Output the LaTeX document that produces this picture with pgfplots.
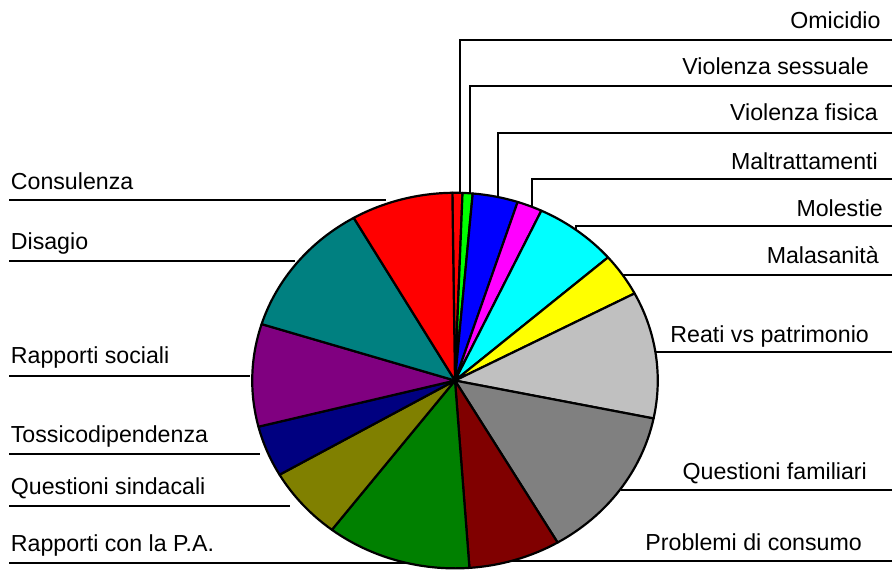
\documentclass[border=0pt]{standalone}
\usepackage{pgfplots}
\pgfplotsset{compat=1.18}
\usepackage{pgfplotstable}
\usepackage{fontspec}
\setmainfont{Liberation Sans}

\definecolor{pRed}{HTML}{FF0000}
\definecolor{pLime}{HTML}{00FF00}
\definecolor{pBlue}{HTML}{0000FF}
\definecolor{pMagenta}{HTML}{FF00FF}
\definecolor{pCyan}{HTML}{00FFFF}
\definecolor{pYellow}{HTML}{FFFF00}
\definecolor{pSilver}{HTML}{C0C0C0}
\definecolor{pGray}{HTML}{808080}
\definecolor{pMaroon}{HTML}{800000}
\definecolor{pGreen}{HTML}{008000}
\definecolor{pOlive}{HTML}{808000}
\definecolor{pNavy}{HTML}{000080}
\definecolor{pPurple}{HTML}{800080}
\definecolor{pTeal}{HTML}{008080}

% share of each category (%), clockwise from 12 o'clock
\pgfplotstableread{
value color
0.8   pRed
0.8   pLime
3.6   pBlue
2.0   pMagenta
6.6   pCyan
3.7   pYellow
10.9  pSilver
13.3  pGray
7.3   pMaroon
11.5  pGreen
6.25  pOlive
4.4   pNavy
8.8   pPurple
11.8  pTeal
8.1   pRed
}\piedata

\newcommand\lbl{\fontsize{23.2bp}{28bp}\selectfont}

\begin{document}
\begin{tikzpicture}
\begin{axis}[x=1bp, y=1bp, xmin=0, xmax=893, ymin=0, ymax=571,
  hide axis, clip=false]
  \path (axis cs:0,0) rectangle (axis cs:893,571);
  % leader lines (under the pie)
  \begin{scope}[line width=2bp]
    \draw (axis cs:893,531) -- (axis cs:460.7,531) -- (axis cs:460.7,377);
    \draw (axis cs:893,485) -- (axis cs:470.7,485) -- (axis cs:470.7,375);
    \draw (axis cs:893,438.3) -- (axis cs:498.3,438.3) -- (axis cs:498.3,373);
    \draw (axis cs:893,391.3) -- (axis cs:532.3,391.3) -- (axis cs:532.3,363);
    \draw (axis cs:893,344.3) -- (axis cs:576.7,344.3) -- (axis cs:576.7,340);
    \draw (axis cs:893,295.3) -- (axis cs:623,295.3);
    \draw (axis cs:893,218.3) -- (axis cs:655,218.3);
    \draw (axis cs:893,80) -- (axis cs:621.7,80);
    \draw (axis cs:893,9.3) -- (axis cs:513,9.3);
    \draw (axis cs:9.3,370.3) -- (axis cs:386.7,370.3);
    \draw (axis cs:9.3,310) -- (axis cs:295,310);
    \draw (axis cs:9.3,194.3) -- (axis cs:250,194.3);
    \draw (axis cs:9.3,116) -- (axis cs:260,116);
    \draw (axis cs:9.3,64.3) -- (axis cs:290,64.3);
    \draw (axis cs:9.3,7.7) -- (axis cs:446,7.7);
  \end{scope}
  \def\cx{455.5}\def\cy{190}
  \pgfmathsetmacro\total{0}
  \pgfplotsforeachungrouped \i in {0,...,14}{%
    \pgfplotstablegetelem{\i}{value}\of\piedata
    \pgfmathsetmacro\total{\total+\pgfplotsretval}}
  \pgfmathsetmacro\angA{90.75}
  \pgfplotsforeachungrouped \i in {0,...,14}{%
    \pgfplotstablegetelem{\i}{value}\of\piedata \let\v\pgfplotsretval
    \pgfplotstablegetelem{\i}{color}\of\piedata \let\c\pgfplotsretval
    \pgfmathsetmacro\angB{\angA-360*\v/\total}
    \pgfmathsetmacro\sx{\cx+203*cos(\angA)}
    \pgfmathsetmacro\sy{\cy+188*sin(\angA)}
    \edef\temp{\noexpand\filldraw[fill=\c, draw=black, line width=2.2bp, line join=round]
      (axis cs:\cx,\cy) -- (axis cs:\sx,\sy)
      arc[start angle=\angA, end angle=\angB, x radius=203bp, y radius=188bp] -- cycle;}
    \temp
    \global\let\angA\angB
  }
  % labels
  \node[anchor=base east, inner sep=0pt, font=\lbl] at (axis cs:881.7,542.7) {Omicidio};
  \node[anchor=base east, inner sep=0pt, font=\lbl] at (axis cs:870,496) {Violenza sessuale};
  \node[anchor=base east, inner sep=0pt, font=\lbl] at (axis cs:879,450.3) {Violenza fisica};
  \node[anchor=base east, inner sep=0pt, font=\lbl] at (axis cs:879,401) {Maltrattamenti};
  \node[anchor=base east, inner sep=0pt, font=\lbl] at (axis cs:884,354.3) {Molestie};
  \node[anchor=base east, inner sep=0pt, font=\lbl] at (axis cs:880,307) {Malasanità};
  \node[anchor=base east, inner sep=0pt, font=\lbl] at (axis cs:870,227.7) {Reati vs patrimonio};
  \node[anchor=base east, inner sep=0pt, font=\lbl] at (axis cs:868,91) {Questioni familiari};
  \node[anchor=base east, inner sep=0pt, font=\lbl] at (axis cs:863,20.3) {Problemi di consumo};
  \node[anchor=base west, inner sep=0pt, font=\lbl] at (axis cs:10.7,381) {Consulenza};
  \node[anchor=base west, inner sep=0pt, font=\lbl] at (axis cs:10.7,321) {Disagio};
  \node[anchor=base west, inner sep=0pt, font=\lbl] at (axis cs:10.7,207) {Rapporti sociali};
  \node[anchor=base west, inner sep=0pt, font=\lbl] at (axis cs:10.7,128.3) {Tossicodipendenza};
  \node[anchor=base west, inner sep=0pt, font=\lbl] at (axis cs:10.7,76) {Questioni sindacali};
  \node[anchor=base west, inner sep=0pt, font=\lbl] at (axis cs:10.7,19.3) {Rapporti con la P.A.};
\end{axis}
\end{tikzpicture}
\end{document}
